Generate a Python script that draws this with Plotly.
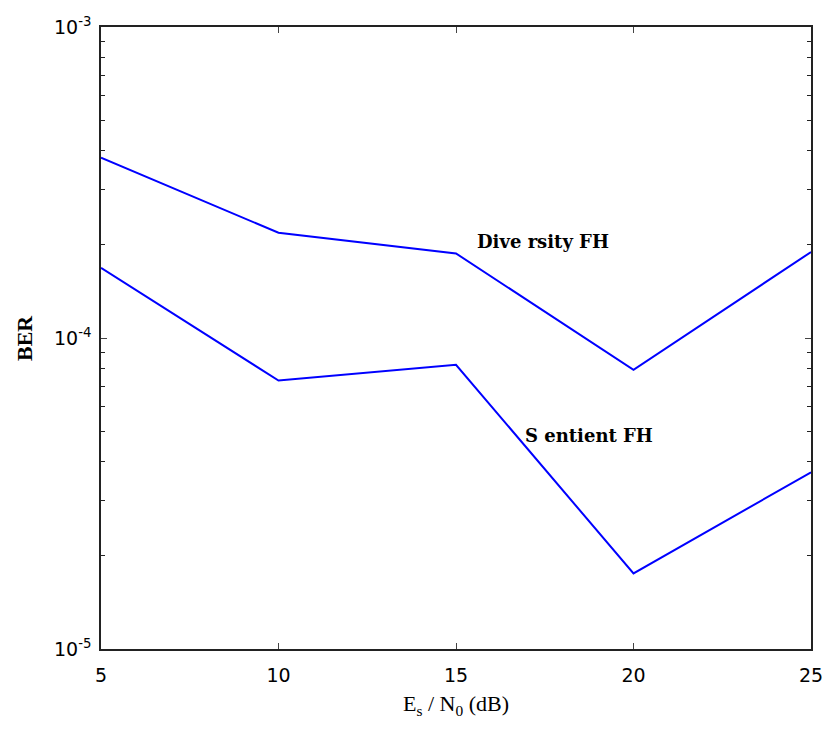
import plotly.graph_objects as go

snr_db = [5, 10, 15, 20, 25]
ber_diversity = [3.8e-4, 2.18e-4, 1.87e-4, 7.9e-5, 1.89e-4]
ber_sentient = [1.68e-4, 7.3e-5, 8.2e-5, 1.75e-5, 3.7e-5]
y_tick_vals = [1e-5, 1e-4, 1e-3]
y_tick_text = ["10<sup>-5</sup>", "10<sup>-4</sup>", "10<sup>-3</sup>"]
x_tick_vals = [5, 10, 15, 20, 25]

minor_vals = [m * 10.0 ** e for e in (-5, -4) for m in range(2, 10)]

fig = go.Figure()
fig.add_trace(go.Scatter(x=snr_db, y=ber_diversity, mode="lines",
                         line=dict(color="#0000FF", width=2), name="Diversity FH"))
fig.add_trace(go.Scatter(x=snr_db, y=ber_sentient, mode="lines",
                         line=dict(color="#0000FF", width=2), name="Sentient FH"))

label_font = dict(family="DejaVu Serif", size=18, color="black")
fig.add_annotation(x=17.46, y=-3.691, text="<b>Dive rsity FH</b>", showarrow=False,
                   xref="x", yref="y", xanchor="center", yanchor="middle", font=label_font)
fig.add_annotation(x=18.76, y=-4.315, text="<b>S entient FH</b>", showarrow=False,
                   xref="x", yref="y", xanchor="center", yanchor="middle", font=label_font)

title_font = dict(family="Liberation Serif", size=22, color="black")
fig.add_annotation(x=0.5, y=0, xref="paper", yref="paper", yshift=-56,
                   text="E<sub>s</sub> / N<sub>0</sub> (dB)", showarrow=False,
                   xanchor="center", yanchor="middle", font=title_font)
fig.add_annotation(x=0, y=0.5, xref="paper", yref="paper", xshift=-77,
                   text="<b>BER</b>", showarrow=False, textangle=-90,
                   xanchor="center", yanchor="middle", font=title_font)

axis_font = dict(family="DejaVu Sans", size=19, color="black")
fig.update_layout(
    width=827, height=730,
    paper_bgcolor="white", plot_bgcolor="white",
    showlegend=False,
    margin=dict(l=101, r=16, t=27, b=81),
    xaxis=dict(range=[5, 25], tickvals=x_tick_vals, ticks="inside", ticklen=6,
               showline=True, linecolor="#222222", linewidth=1.5, mirror="allticks",
               showgrid=False, zeroline=False, tickfont=axis_font,
               ticklabelstandoff=8, automargin=False),
    yaxis=dict(type="log", range=[-5, -3], tickvals=y_tick_vals, ticktext=y_tick_text,
               ticks="inside", ticklen=6,
               showline=True, linecolor="#222222", linewidth=1.5, mirror="allticks",
               showgrid=False, zeroline=False, tickfont=axis_font,
               ticklabelstandoff=4, automargin=False,
               minor=dict(tickvals=minor_vals, ticks="inside", ticklen=4,
                          tickcolor="#222222", showgrid=False)),
)

fig.write_html("out.html",
               config={"displayModeBar": False},
               post_script="document.body.style.margin='0';document.body.style.overflow='hidden';")
